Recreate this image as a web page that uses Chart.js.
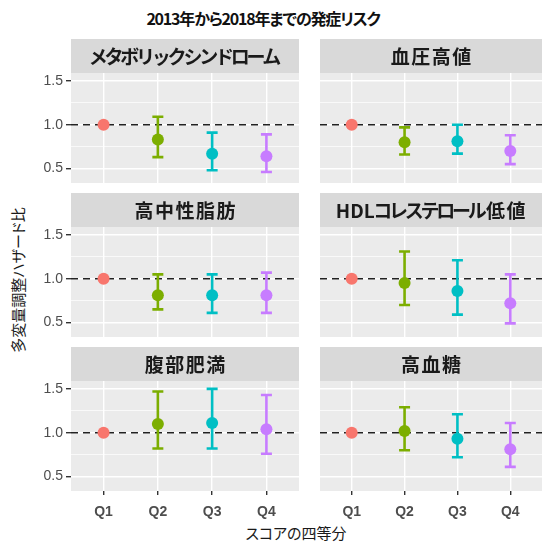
<!DOCTYPE html>
<html lang="ja">
<head>
<meta charset="utf-8">
<script src="https://cdn.jsdelivr.net/npm/chart.js@4.4.1/dist/chart.umd.min.js"></script>
<style>
  html, body { margin: 0; padding: 0; background: #ffffff; }
  body { position: relative; width: 545px; height: 551px; overflow: hidden; }
  canvas { position: absolute; }
  .txt { position: absolute; white-space: nowrap; font-family: "Noto Sans CJK JP", sans-serif;
         font-feature-settings: "palt"; color: #1a1a1a; line-height: 1; }
  #title { left: 0; width: 526px; top: 10px; text-align: center; font-size: 16px; font-weight: bold;
           letter-spacing: -1.2px; color: #111; }
  #ytitle { left: 17px; top: 280px; font-size: 15px; transform: translate(-50%, -50%) rotate(-90deg); }
  #xtitle { left: 296px; top: 532px; font-size: 15px; transform: translate(-50%, -50%); }
</style>
</head>
<body>
<div id="title" class="txt">2013年から2018年までの発症リスク</div>
<div id="ytitle" class="txt">多変量調整ハザード比</div>
<div id="xtitle" class="txt">スコアの四等分</div>
<script>
// Score quartiles on the x axis
const quartiles = ['Q1', 'Q2', 'Q3', 'Q4'];
const quartileColors = ['#F8766D', '#7CAE00', '#00BFC4', '#C77CFF'];

// Outcomes, one facet each (row by row)
const outcomes = ['メタボリックシンドローム', '血圧高値', '高中性脂肪', 'HDLコレステロール低値', '腹部肥満', '高血糖'];

// Adjusted hazard ratios with 95% CI (Q1 is the reference group)
const metsHR  = [1.00, 0.83, 0.67, 0.64];
const metsLo  = [null, 0.63, 0.48, 0.46];
const metsHi  = [null, 1.09, 0.91, 0.89];

const bpHR    = [1.00, 0.80, 0.81, 0.70];
const bpLo    = [null, 0.66, 0.67, 0.55];
const bpHi    = [null, 0.97, 1.00, 0.88];

const tgHR    = [1.00, 0.81, 0.81, 0.81];
const tgLo    = [null, 0.65, 0.61, 0.61];
const tgHi    = [null, 1.05, 1.05, 1.07];

const hdlHR   = [1.00, 0.95, 0.86, 0.72];
const hdlLo   = [null, 0.70, 0.59, 0.49];
const hdlHi   = [null, 1.31, 1.21, 1.05];

const waistHR = [1.00, 1.10, 1.11, 1.04];
const waistLo = [null, 0.82, 0.82, 0.76];
const waistHi = [null, 1.47, 1.50, 1.43];

const gluHR   = [1.00, 1.02, 0.93, 0.81];
const gluLo   = [null, 0.80, 0.72, 0.61];
const gluHi   = [null, 1.29, 1.21, 1.11];

// Y axis ticks (labelled) and minor grid positions
const yTickValues = [0.5, 1.0, 1.5];
const yMinorValues = [0.75, 1.25];
const referenceHR = 1.0;

const facetHR = [metsHR, bpHR, tgHR, hdlHR, waistHR, gluHR];
const facetLo = [metsLo, bpLo, tgLo, hdlLo, waistLo, gluLo];
const facetHi = [metsHi, bpHi, tgHi, hdlHi, waistHi, gluHi];

// Facet grid geometry
const PANEL_W = 234, PANEL_H = 110, STRIP_H = 34, Y_AXIS_W = 50, X_AXIS_H = 35;
const colX = [71, 314];
const rowY = [39, 193, 347];
const Y_MIN = 0.335, Y_MAX = 1.59;

function isKana(ch) { return /[\u3040-\u30FF]/.test(ch); }
function isKanji(ch) { return /[\u4E00-\u9FFF]/.test(ch); }

// Strip text: kana set a little tighter than kanji, like a proportional Japanese face
function drawStripText(ctx, text, cx, cy) {
  ctx.save();
  ctx.font = 'bold 19px "Noto Sans CJK JP", sans-serif';
  ctx.fillStyle = '#1A1A1A';
  ctx.textAlign = 'center';
  ctx.textBaseline = 'middle';
  const chars = [...text];
  const adv = chars.map(ch => {
    const w = ctx.measureText(ch).width;
    if (isKana(ch)) return w * 0.83;
    return isKanji(ch) ? w + 1.5 : w;
  });
  const total = adv.reduce((a, b) => a + b, 0);
  let x = cx - total / 2;
  chars.forEach((ch, i) => {
    ctx.fillText(ch, x + adv[i] / 2, cy);
    x += adv[i];
  });
  ctx.restore();
}

// Panel background and facet strip
const facetBackground = {
  id: 'facetBackground',
  beforeDraw(chart, args, opts) {
    const { ctx, chartArea: a } = chart;
    ctx.save();
    ctx.fillStyle = '#EBEBEB';
    ctx.fillRect(a.left, a.top, a.right - a.left, a.bottom - a.top);
    ctx.fillStyle = '#D9D9D9';
    ctx.fillRect(a.left, a.top - STRIP_H, a.right - a.left, STRIP_H);
    ctx.restore();
    drawStripText(ctx, opts.label, (a.left + a.right) / 2, a.top - STRIP_H / 2 + 0.5);
  }
};

// Dashed reference line and confidence-interval bars
const errorBars = {
  id: 'errorBars',
  beforeDatasetsDraw(chart, args, opts) {
    const { ctx, chartArea: a, scales: { x, y } } = chart;
    ctx.save();
    ctx.beginPath();
    ctx.rect(a.left, a.top, a.right - a.left, a.bottom - a.top);
    ctx.clip();

    const yRef = y.getPixelForValue(referenceHR);
    ctx.setLineDash([7, 5]);
    ctx.lineWidth = 1.6;
    ctx.strokeStyle = '#222222';
    ctx.beginPath();
    ctx.moveTo(a.left, yRef);
    ctx.lineTo(a.right, yRef);
    ctx.stroke();

    ctx.setLineDash([]);
    ctx.lineWidth = 2.6;
    ctx.lineCap = 'butt';
    opts.lo.forEach((lo, i) => {
      const hi = opts.hi[i];
      if (lo === null || hi === null) return;
      const px = x.getPixelForValue(i + 1);
      const pLo = y.getPixelForValue(lo);
      const pHi = y.getPixelForValue(hi);
      const cap = 5.5;
      ctx.strokeStyle = quartileColors[i];
      ctx.beginPath();
      ctx.moveTo(px, pLo); ctx.lineTo(px, pHi);
      ctx.moveTo(px - cap, pLo); ctx.lineTo(px + cap, pLo);
      ctx.moveTo(px - cap, pHi); ctx.lineTo(px + cap, pHi);
      ctx.stroke();
    });
    ctx.restore();
  }
};

outcomes.forEach((label, f) => {
  const row = Math.floor(f / 2), col = f % 2;
  const leftAxis = col === 0, bottomAxis = row === 2;

  // Every canvas reserves the same x-axis band so all panels share one layout;
  // only the bottom row puts tick marks and labels in it.
  const canvas = document.createElement('canvas');
  const w = PANEL_W + (leftAxis ? Y_AXIS_W : 0);
  const h = STRIP_H + PANEL_H + X_AXIS_H;
  canvas.width = w; canvas.height = h;
  canvas.style.width = w + 'px'; canvas.style.height = h + 'px';
  canvas.style.left = (colX[col] - (leftAxis ? Y_AXIS_W : 0)) + 'px';
  canvas.style.top = rowY[row] + 'px';
  document.body.appendChild(canvas);

  new Chart(canvas, {
    type: 'scatter',
    data: {
      datasets: [{
        data: facetHR[f].map((v, i) => ({ x: i + 1, y: v })),
        pointBackgroundColor: quartileColors,
        pointBorderWidth: 0,
        pointRadius: 6,
        pointHoverRadius: 6,
        showLine: false
      }]
    },
    options: {
      responsive: false,
      animation: false,
      devicePixelRatio: 1,
      events: [],
      layout: { padding: { top: STRIP_H, left: 0, right: 0, bottom: 0 } },
      plugins: {
        legend: { display: false },
        tooltip: { enabled: false },
        title: { display: false },
        facetBackground: { label },
        errorBars: { lo: facetLo[f], hi: facetHi[f] }
      },
      scales: {
        x: {
          type: 'linear',
          min: 0.4, max: 4.6,
          afterBuildTicks: s => { s.ticks = quartiles.map((q, i) => ({ value: i + 1 })); },
          afterFit: s => {
            s.height = X_AXIS_H;
            s.paddingLeft = 0; s.paddingRight = 0;
          },
          ticks: {
            display: bottomAxis,
            callback: v => quartiles[v - 1],
            font: { family: '"Liberation Sans", Arial, sans-serif', size: 14, weight: 'bold' },
            color: '#4D4D4D',
            padding: 9,
            maxRotation: 0,
            autoSkip: false
          },
          grid: {
            color: '#FFFFFF',
            lineWidth: 1.4,
            drawTicks: bottomAxis,
            tickLength: 4,
            tickColor: '#333333'
          },
          border: { display: false }
        },
        y: {
          type: 'linear',
          min: Y_MIN, max: Y_MAX,
          afterBuildTicks: s => {
            s.ticks = [...yTickValues, ...yMinorValues].sort((a, b) => a - b).map(v => ({ value: v }));
          },
          afterFit: s => {
            s.width = leftAxis ? Y_AXIS_W : 0;
            s.paddingTop = 0; s.paddingBottom = 0;
          },
          ticks: {
            display: leftAxis,
            callback: v => yTickValues.includes(v) ? v.toFixed(1) : '',
            font: { family: '"Liberation Sans", Arial, sans-serif', size: 14 },
            color: '#4D4D4D',
            padding: 3
          },
          grid: {
            color: '#FFFFFF',
            lineWidth: c => yTickValues.includes(c.tick.value) ? 1.4 : 0.7,
            drawTicks: leftAxis,
            tickLength: 5,
            tickColor: c => yTickValues.includes(c.tick.value) ? '#333333' : 'rgba(0,0,0,0)'
          },
          border: { display: false }
        }
      }
    },
    plugins: [facetBackground, errorBars]
  });
});
</script>
</body>
</html>
